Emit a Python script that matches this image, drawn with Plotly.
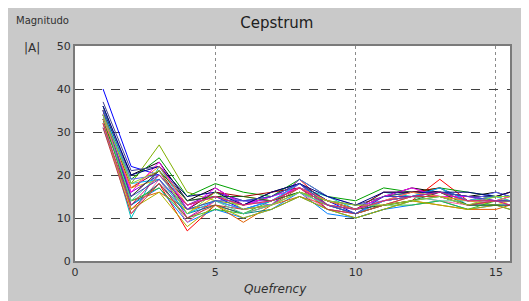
import plotly.graph_objects as go

quefrency = [1, 2, 3, 4, 5, 6, 7, 8, 9, 10, 11, 12, 13, 14, 15, 15.5]

s01 = [40, 22, 20, 13, 15, 12, 14, 17, 14, 11, 14, 15, 16, 14, 14, 15]
s02 = [36, 18, 27, 16, 14, 13, 15, 18, 13, 12, 15, 16, 15, 14, 15, 14]
s03 = [35, 12, 18, 7, 13, 11, 13, 19, 13, 11, 13, 14, 19, 14, 15, 15]
s04 = [33, 10, 22, 12, 16, 14, 15, 17, 15, 12, 16, 15, 17, 13, 14, 13]
s05 = [34, 15, 21, 10, 14, 12, 13, 18, 12, 11, 14, 16, 16, 15, 14, 14]
s06 = [32, 17, 19, 11, 15, 15, 14, 16, 14, 13, 13, 15, 15, 14, 13, 14]
s07 = [35, 20, 23, 14, 17, 13, 16, 18, 14, 12, 15, 17, 16, 15, 16, 15]
s08 = [31, 13, 17, 9, 12, 10, 12, 16, 11, 10, 12, 13, 14, 12, 13, 13]
s09 = [36, 19, 24, 15, 18, 16, 15, 19, 15, 14, 17, 16, 17, 16, 15, 16]
s10 = [34, 14, 16, 12, 13, 9, 13, 15, 13, 11, 13, 14, 13, 12, 12, 13]
s11 = [33, 16, 20, 13, 16, 14, 14, 17, 13, 12, 14, 15, 15, 13, 14, 14]
s12 = [32, 11, 19, 9, 14, 12, 13, 16, 12, 11, 13, 15, 14, 13, 14, 13]
s13 = [37, 21, 22, 14, 15, 13, 15, 18, 14, 13, 15, 16, 16, 15, 15, 15]
s14 = [34, 13, 18, 11, 13, 11, 12, 15, 12, 10, 12, 14, 15, 13, 13, 12]
s15 = [35, 17, 21, 12, 16, 15, 16, 17, 14, 12, 16, 16, 17, 14, 15, 16]
s16 = [33, 14, 17, 10, 12, 11, 14, 16, 13, 11, 13, 13, 14, 12, 14, 14]
s17 = [36, 19, 20, 13, 15, 14, 13, 19, 15, 13, 14, 15, 16, 14, 16, 15]
s18 = [32, 12, 16, 8, 13, 10, 12, 15, 12, 10, 12, 14, 13, 12, 13, 12]
s19 = [34, 16, 23, 12, 17, 13, 15, 17, 14, 12, 15, 17, 15, 15, 14, 15]
s20 = [35, 18, 19, 11, 14, 12, 14, 18, 13, 11, 14, 15, 17, 14, 15, 14]
s21 = [33, 15, 21, 14, 15, 15, 14, 16, 14, 12, 13, 14, 16, 13, 13, 13]
s22 = [31, 11, 18, 10, 13, 12, 13, 17, 12, 11, 13, 15, 15, 13, 14, 14]
s23 = [36, 20, 22, 15, 16, 13, 16, 18, 15, 13, 16, 16, 16, 16, 15, 16]
s24 = [34, 14, 20, 12, 14, 11, 13, 16, 13, 12, 14, 15, 14, 14, 15, 14]
s25 = [33, 17, 22, 13, 15, 13, 14, 17, 14, 12, 14, 16, 15, 14, 14, 15]
s26 = [35, 15, 19, 12, 14, 14, 15, 18, 13, 11, 15, 15, 16, 15, 14, 14]
s27 = [34, 18, 21, 11, 16, 12, 13, 16, 14, 13, 13, 14, 15, 13, 15, 15]
s28 = [32, 13, 20, 13, 15, 13, 14, 17, 13, 12, 14, 15, 16, 14, 14, 13]

series = [s01, s02, s03, s04, s05, s06, s07, s08, s09, s10, s11, s12, s13, s14,
          s15, s16, s17, s18, s19, s20, s21, s22, s23, s24, s25, s26, s27, s28]

colors = ["#0000ff", "#7fb000", "#ff0000", "#00c0c0", "#c000c0", "#e0d000",
          "#000000", "#0080ff", "#00a000", "#e06000", "#8000c0", "#ff60a0",
          "#404090", "#008080", "#a00000", "#30c030", "#6060ff", "#b0b000",
          "#ff00ff", "#00b0ff", "#206020", "#c04040", "#000080", "#50d0a0",
          "#ff8040", "#4040c0", "#90d030", "#d02080"]

fig = go.Figure()
for ys, c in zip(series, colors):
    fig.add_trace(go.Scatter(x=quefrency, y=ys, mode="lines",
                             line=dict(color=c, width=1), showlegend=False))

fig.update_layout(
    width=521, height=293,
    paper_bgcolor="#c9c9c9", plot_bgcolor="#ffffff",
    margin=dict(l=67, r=19, t=38, b=40),
    font=dict(family="DejaVu Sans, sans-serif", size=11, color="#303030"),
    title=dict(text="Cepstrum", x=0.464, xanchor="center", xref="paper",
               y=0.95, yanchor="middle",
               font=dict(size=15, color="#202020")),
)
fig.update_xaxes(range=[0, 15.5], tickvals=[0, 5, 10, 15], ticks="",
                 showgrid=True, gridcolor="#8a8a8a", griddash="dot", gridwidth=1,
                 showline=True, linecolor="#7a7a7a", linewidth=2, mirror=True,
                 zeroline=False, tickfont=dict(size=11))
fig.update_yaxes(range=[0, 50], tickvals=[0, 10, 20, 30, 40, 50], ticks="",
                 showgrid=True, gridcolor="#404040", griddash="dash", gridwidth=1,
                 showline=True, linecolor="#7a7a7a", linewidth=2, mirror=True,
                 zeroline=False, tickfont=dict(size=11))

fig.add_annotation(text="Magnitudo", xref="paper", yref="paper", x=-0.14, y=1.12,
                   xanchor="left", yanchor="middle", showarrow=False,
                   font=dict(size=10, color="#303030"))
fig.add_annotation(text="|A|", xref="paper", yref="paper", x=-0.099, y=0.99,
                   xanchor="center", yanchor="middle", showarrow=False,
                   font=dict(size=12, color="#303030"))
fig.add_annotation(text="<i>Quefrency</i>", xref="paper", yref="paper", x=0.46, y=-0.13,
                   xanchor="center", yanchor="middle", showarrow=False,
                   font=dict(size=12, color="#303030"))

fig.write_html("out.html")
